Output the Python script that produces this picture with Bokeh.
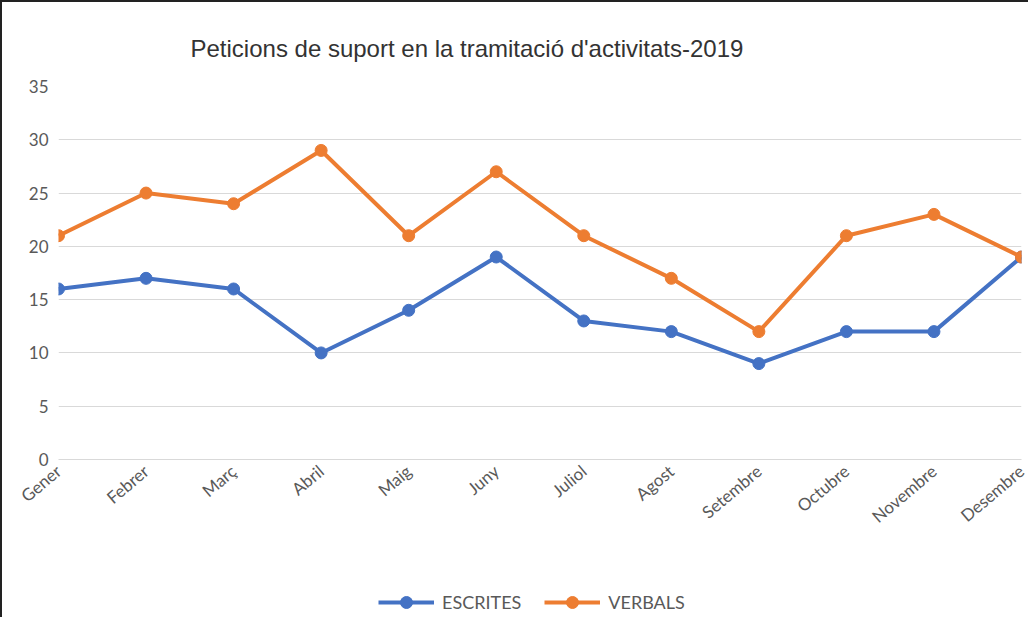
from bokeh.plotting import figure
from bokeh.layouts import column
from bokeh.models import Range1d, FixedTicker, Legend, LegendItem
from bokeh.embed import file_html
from bokeh.resources import INLINE

months = ["Gener", "Febrer", "Març", "Abril", "Maig", "Juny", "Juliol",
          "Agost", "Setembre", "Octubre", "Novembre", "Desembre"]
escrites = [16, 17, 16, 10, 14, 19, 13, 12, 9, 12, 12, 19]
verbals = [21, 25, 24, 29, 21, 27, 21, 17, 12, 21, 23, 19]
series_names = ["ESCRITES", "VERBALS"]
y_ticks = [0, 5, 10, 15, 20, 25, 30, 35]
title_text = "Peticions de suport en la tramitació d'activitats-2019"

xs = list(range(len(months)))
blue = "#4472C4"
orange = "#ED7D31"

p = figure(width=1026, height=585, output_backend="svg", toolbar_location=None,
           x_range=Range1d(0, len(months) - 1), y_range=Range1d(0, 35),
           min_border_left=56, min_border_right=7, min_border_top=84,
           min_border_bottom=128)

p.title.text = title_text
p.title.text_font = "Liberation Sans"
p.title.text_font_style = "normal"
p.title.text_font_size = "24px"
p.title.text_color = "#333333"
p.title.align = "left"
p.title.offset = 132
p.title.standoff = 50

p.outline_line_color = None
p.background_fill_color = "white"
p.border_fill_color = "white"

p.xgrid.visible = False
p.ygrid.grid_line_color = "#d9d9d9"
p.ygrid.grid_line_width = 1

p.yaxis.ticker = FixedTicker(ticks=y_ticks)
p.yaxis.axis_line_color = None
p.yaxis.major_tick_line_color = None
p.yaxis.minor_tick_line_color = None
p.yaxis.major_label_text_font = "Lato"
p.yaxis.major_label_text_font_size = "17px"
p.yaxis.major_label_text_color = "#595959"
p.yaxis.major_label_standoff = 4

p.xaxis.ticker = FixedTicker(ticks=xs)
p.xaxis.major_label_overrides = {i: m for i, m in enumerate(months)}
p.xaxis.axis_line_color = "#d9d9d9"
p.xaxis.major_tick_line_color = None
p.xaxis.minor_tick_line_color = None
p.xaxis.major_label_orientation = 0.7
p.xaxis.major_label_text_font = "Lato"
p.xaxis.major_label_text_font_size = "17px"
p.xaxis.major_label_text_color = "#595959"
p.xaxis.major_label_standoff = 3

p.line(xs, escrites, line_color=blue, line_width=4)
p.scatter(xs, escrites, size=12, fill_color=blue, line_color=blue)
p.line(xs, verbals, line_color=orange, line_width=4)
p.scatter(xs, verbals, size=12, fill_color=orange, line_color=orange)

# legend strip below the chart (its swatch renderers lie outside the visible range)
lg = figure(width=1026, height=30, output_backend="svg", toolbar_location=None,
            x_range=Range1d(0, 1), y_range=Range1d(0, 1),
            x_axis_location=None, y_axis_location=None,
            min_border_left=0, min_border_right=0, min_border_top=0,
            min_border_bottom=0)
lg.grid.visible = False
lg.outline_line_color = None
lg.border_fill_color = "white"

items = []
for name, col in zip(series_names, [blue, orange]):
    rl = lg.line([-10, -9], [-10, -10], line_color=col, line_width=4)
    rs = lg.scatter([-10], [-10], size=12, fill_color=col, line_color=col)
    items.append(LegendItem(label=name, renderers=[rl, rs]))

legend = Legend(items=items, orientation="horizontal", location=(320, 0),
                glyph_width=56, glyph_height=30, spacing=23, label_standoff=8,
                label_text_font="Lato", label_text_font_size="18px",
                label_text_color="#595959", border_line_color=None,
                background_fill_alpha=0, margin=0, padding=0)
lg.add_layout(legend, "center")

layout = column(p, lg, spacing=0,
                styles={"border-left": "2px solid #222222",
                        "border-top": "2px solid #222222"})

open("out.html", "w").write(file_html(layout, INLINE))
